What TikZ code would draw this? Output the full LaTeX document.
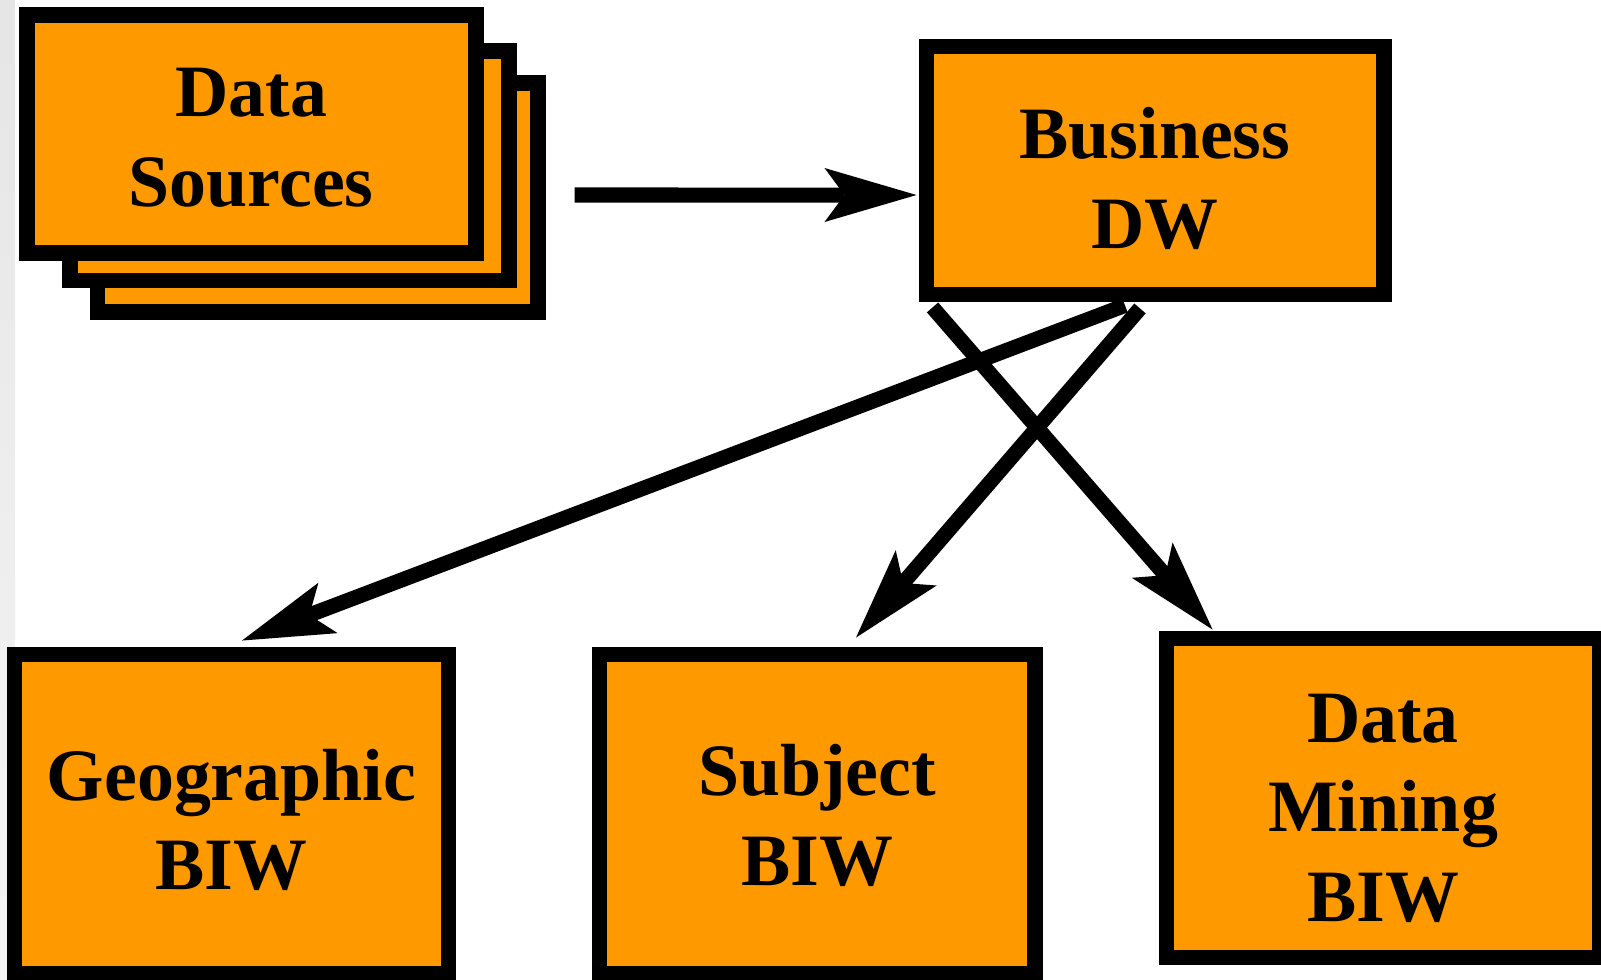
\documentclass[tikz,border=0pt]{standalone}
\usepackage{fontspec}
\setmainfont{Liberation Serif}
\usetikzlibrary{arrows.meta}
\definecolor{boxorange}{RGB}{255,153,0}

\begin{document}
\begin{tikzpicture}[
  x=0.01cm, y=-0.01cm,
  font=\fontsize{21}{25.5}\selectfont\bfseries,
  box/.style={draw, line width=0.157cm, fill=boxorange, align=center, inner sep=0pt},
  ar/.style={line width=0.15cm, -{Stealth[length=9.2mm, width=5.4mm, inset=2mm, line width=0pt]}}
]
\useasboundingbox (0,0) rectangle (1601,979);
\shade[top color=black!10, bottom color=black!4] (0,0) rectangle (15,979);

% stack of source sheets
\node[box, minimum width=4.40cm, minimum height=2.295cm] (ds3) at (317.7,197.5) {};
\node[box, minimum width=4.385cm, minimum height=2.295cm] (ds2) at (289.5,165.8) {};
\node[box, minimum width=4.49cm, minimum height=2.385cm] (ds1) at (251.3,134) {\rule{0pt}{16pt}Data\\Sources};

\node[box, minimum width=4.57cm, minimum height=2.48cm] (bdw) at (1155,170.5) {\rule{0pt}{19pt}Business\\DW};

\node[box, minimum width=4.34cm, minimum height=3.19cm] (geo) at (231.5,814) {\rule{0pt}{18pt}Geographic\\BIW};
\node[box, minimum width=4.35cm, minimum height=3.19cm] (sub) at (817,814) {\rule{0pt}{15.5pt}Subject\\BIW};
\node[box, minimum width=4.33cm, minimum height=3.19cm] (dm) at (1383,798) {\rule{0pt}{19.5pt}Data\\Mining\\BIW};

\draw[ar] ([xshift=0.29cm,yshift=0.025cm]ds3.east) -- ([xshift=-0.02cm,yshift=-0.245cm]bdw.west);
\draw[ar] ([xshift=-0.3cm,yshift=-0.03cm]bdw.south) -- ([xshift=0.105cm,yshift=0.06cm]geo.north);
\draw[ar] ([xshift=-0.15cm,yshift=-0.06cm]bdw.south) -- ([xshift=0.39cm,yshift=0.09cm]sub.north);
\draw[ar] ([xshift=0.14cm,yshift=-0.05cm]bdw.south west) -- ([xshift=0.54cm,yshift=0.01cm]dm.north west);
\end{tikzpicture}
\end{document}
